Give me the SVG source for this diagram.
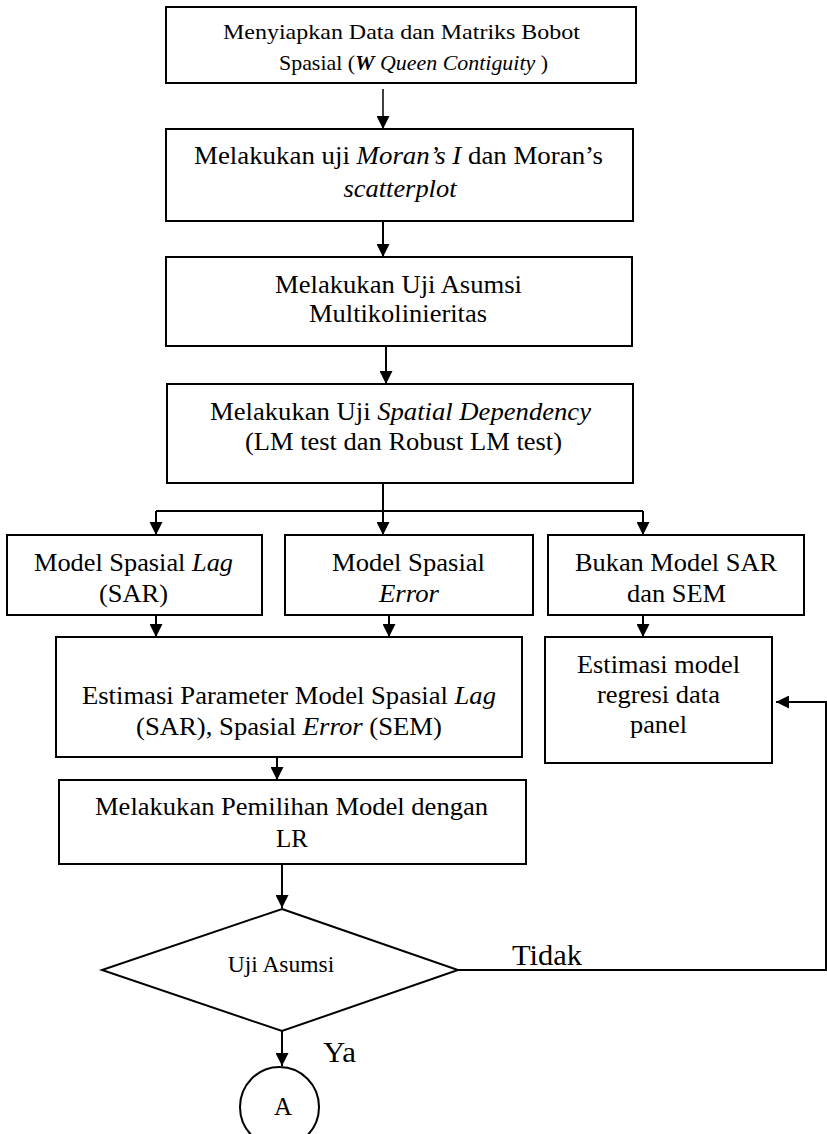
<svg xmlns="http://www.w3.org/2000/svg" width="827" height="1134" viewBox="0 0 827 1134">
<style>
.box{fill:#fff;stroke:#000;stroke-width:2}
.t{font-family:"Liberation Serif","Times New Roman",serif;font-size:26px;fill:#000;text-anchor:middle}
.s{font-size:21px}
.i{font-style:italic}
.c{fill:none;stroke:#000;stroke-width:2}
</style>
<defs>
<marker id="ah" viewBox="0 0 13 13" refX="13" refY="6.5" markerWidth="13" markerHeight="13" markerUnits="userSpaceOnUse" orient="auto">
<path d="M0,0 L13,6.5 L0,13 z" fill="#000"/>
</marker>
</defs>
<rect width="827" height="1134" fill="#fff"/>
<g id="connectors">
<line class="c" x1="383" y1="89" x2="383" y2="129" marker-end="url(#ah)" style="stroke-width:1.5"/>
<line class="c" x1="383" y1="221" x2="383" y2="257" marker-end="url(#ah)"/>
<line class="c" x1="386" y1="346" x2="386" y2="384" marker-end="url(#ah)"/>
<polyline class="c" points="383,483 383,511"/>
<polyline class="c" points="156,511 643,511"/>
<line class="c" x1="156" y1="511" x2="156" y2="535" marker-end="url(#ah)"/>
<line class="c" x1="383" y1="511" x2="383" y2="535" marker-end="url(#ah)"/>
<line class="c" x1="643" y1="511" x2="643" y2="535" marker-end="url(#ah)"/>
<line class="c" x1="156" y1="615" x2="156" y2="637" marker-end="url(#ah)"/>
<line class="c" x1="389" y1="615" x2="389" y2="637" marker-end="url(#ah)"/>
<line class="c" x1="643" y1="615" x2="643" y2="637" marker-end="url(#ah)"/>
<line class="c" x1="277" y1="757" x2="277" y2="780" marker-end="url(#ah)"/>
<line class="c" x1="282" y1="864" x2="282" y2="908" marker-end="url(#ah)"/>
<line class="c" x1="282" y1="1031" x2="282" y2="1066" marker-end="url(#ah)"/>
<polyline class="c" points="458,970 826,970 826,702 776,702" marker-end="url(#ah)"/>
<text class="t" x="547" y="965" style="font-size:30px" textLength="70" lengthAdjust="spacingAndGlyphs">Tidak</text>
<text class="t" x="339.5" y="1062" style="font-size:29px" textLength="33" lengthAdjust="spacingAndGlyphs">Ya</text>
</g>
<g id="n1">
<rect class="box" x="166" y="7" width="470" height="76"/>
<text class="t s" x="401.5" y="39" textLength="357" lengthAdjust="spacingAndGlyphs">Menyiapkan Data dan Matriks Bobot</text>
<text class="t s" x="413.5" y="70" textLength="269" lengthAdjust="spacingAndGlyphs">Spasial (<tspan class="i" font-weight="bold">W</tspan> <tspan class="i">Queen Contiguity</tspan> )</text>
</g>
<g id="n2">
<rect class="box" x="166" y="129" width="467" height="92"/>
<text class="t" x="398.5" y="164" textLength="409" lengthAdjust="spacingAndGlyphs">Melakukan uji <tspan class="i">Moran’s I</tspan> dan Moran’s</text>
<text class="t i" x="400" y="197" textLength="113" lengthAdjust="spacingAndGlyphs">scatterplot</text>
</g>
<g id="n3">
<rect class="box" x="166" y="257" width="466" height="89"/>
<text class="t" x="398.5" y="293" textLength="247" lengthAdjust="spacingAndGlyphs">Melakukan Uji Asumsi</text>
<text class="t" x="398" y="322" textLength="178" lengthAdjust="spacingAndGlyphs">Multikolinieritas</text>
</g>
<g id="n4">
<rect class="box" x="167" y="384" width="466" height="99"/>
<text class="t" x="400.5" y="420" textLength="381" lengthAdjust="spacingAndGlyphs">Melakukan Uji <tspan class="i">Spatial Dependency</tspan></text>
<text class="t" x="403.5" y="450" textLength="317" lengthAdjust="spacingAndGlyphs">(LM test dan Robust LM test)</text>
</g>
<g id="n5a">
<rect class="box" x="7" y="535" width="255" height="80"/>
<text class="t" x="133.5" y="571" textLength="199" lengthAdjust="spacingAndGlyphs">Model Spasial <tspan class="i">Lag</tspan></text>
<text class="t" x="133.5" y="602" textLength="69" lengthAdjust="spacingAndGlyphs">(SAR)</text>
</g>
<g id="n5b">
<rect class="box" x="285" y="535" width="248" height="80"/>
<text class="t" x="408.5" y="571" textLength="153" lengthAdjust="spacingAndGlyphs">Model Spasial</text>
<text class="t i" x="409" y="602" textLength="60" lengthAdjust="spacingAndGlyphs">Error</text>
</g>
<g id="n5c">
<rect class="box" x="548" y="535" width="256" height="80"/>
<text class="t" x="676" y="571" textLength="202" lengthAdjust="spacingAndGlyphs">Bukan Model SAR</text>
<text class="t" x="676.5" y="602" textLength="99" lengthAdjust="spacingAndGlyphs">dan SEM</text>
</g>
<g id="n6">
<rect class="box" x="56" y="637" width="466" height="120"/>
<text class="t" x="289" y="704" textLength="414" lengthAdjust="spacingAndGlyphs">Estimasi Parameter Model Spasial <tspan class="i">Lag</tspan></text>
<text class="t" x="289" y="735" textLength="306" lengthAdjust="spacingAndGlyphs">(SAR), Spasial <tspan class="i">Error</tspan> (SEM)</text>
</g>
<g id="n7">
<rect class="box" x="545" y="637" width="227" height="126"/>
<text class="t" x="658.5" y="673" textLength="163" lengthAdjust="spacingAndGlyphs">Estimasi model</text>
<text class="t" x="658.5" y="703" textLength="123" lengthAdjust="spacingAndGlyphs">regresi data</text>
<text class="t" x="658.5" y="733" textLength="57" lengthAdjust="spacingAndGlyphs">panel</text>
</g>
<g id="n8">
<rect class="box" x="59" y="780" width="467" height="84"/>
<text class="t" x="291.5" y="815" textLength="393" lengthAdjust="spacingAndGlyphs">Melakukan Pemilihan Model dengan</text>
<text class="t" x="292" y="847" textLength="32" lengthAdjust="spacingAndGlyphs">LR</text>
</g>
<g id="n9">
<polygon class="box" points="282,909 458,970 282,1031 102,970"/>
<text class="t" x="281" y="972" style="font-size:23.5px">Uji Asumsi</text>
</g>
<g id="n10">
<ellipse class="box" cx="279.5" cy="1107" rx="39.5" ry="40"/>
<text class="t" x="283" y="1115" style="font-size:25px">A</text>
</g>
</svg>
